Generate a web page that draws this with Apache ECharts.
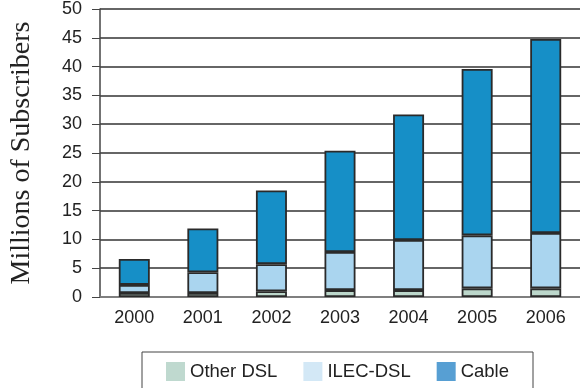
<!DOCTYPE html>
<html>
<head>
<meta charset="utf-8">
<script src="https://cdn.jsdelivr.net/npm/echarts@6/dist/echarts.min.js"></script>
<style>
  html, body { margin: 0; padding: 0; background: #fff; }
  #chart { width: 580px; height: 388px; }
</style>
</head>
<body>
<div id="chart"></div>
<script>
// subscribers, millions
const years = ['2000', '2001', '2002', '2003', '2004', '2005', '2006']
const otherDsl = [0.7, 0.7, 1.0, 1.2, 1.2, 1.5, 1.5]
const ilecDsl = [1.4, 3.6, 4.7, 6.6, 8.7, 9.2, 9.6]
const cable = [4.5, 7.6, 12.8, 17.6, 21.8, 28.9, 33.7]

const chart = echarts.init(document.getElementById('chart'))

const barStyle = (color) => ({
  color: color,
  borderColor: '#2a2a2a',
  borderWidth: 1.8
})

chart.setOption({
  animation: false,
  textStyle: { fontFamily: 'Liberation Sans, Arial, sans-serif' },
  grid: {
    left: 96,
    top: 7,
    width: 494,
    height: 290
  },
  legend: {
    left: 142,
    top: 352,
    padding: [10, 24, 10, 24],
    borderColor: '#444',
    borderWidth: 1,
    itemWidth: 19,
    itemHeight: 19,
    itemGap: 26,
    textStyle: { fontSize: 18.5, color: '#222' },
    data: [
      { name: 'Other DSL', icon: 'rect', itemStyle: { color: '#bfd9cf', borderWidth: 0 } },
      { name: 'ILEC-DSL', icon: 'rect', itemStyle: { color: '#d3e8f6', borderWidth: 0 } },
      { name: 'Cable', icon: 'rect', itemStyle: { color: '#579fd3', borderWidth: 0 } }
    ]
  },
  xAxis: {
    type: 'category',
    data: years,
    axisLine: { lineStyle: { color: '#888', width: 1.5 } },
    axisTick: { length: 7, lineStyle: { color: '#555' } },
    axisLabel: { fontSize: 18, color: '#222', margin: 12 }
  },
  yAxis: {
    type: 'value',
    min: 0,
    max: 50,
    interval: 5,
    name: 'Millions of Subscribers',
    nameLocation: 'middle',
    nameGap: 64,
    nameTextStyle: {
      fontFamily: 'Liberation Serif, Times New Roman, serif',
      fontSize: 28,
      color: '#222'
    },
    axisLine: { show: true, lineStyle: { color: '#444', width: 1.5 } },
    axisTick: { show: true, length: 8, lineStyle: { color: '#444' } },
    axisLabel: { fontSize: 18, color: '#222', margin: 18 },
    splitLine: { lineStyle: { color: '#333', width: 1.5 } }
  },
  series: [
    {
      name: 'Other DSL',
      type: 'bar',
      stack: 'total',
      barWidth: 31,
      itemStyle: barStyle('#bcd7cb'),
      data: otherDsl
    },
    {
      name: 'ILEC-DSL',
      type: 'bar',
      stack: 'total',
      barWidth: 31,
      itemStyle: barStyle('#aad5ef'),
      data: ilecDsl
    },
    {
      name: 'Cable',
      type: 'bar',
      stack: 'total',
      barWidth: 31,
      itemStyle: barStyle('#168fc7'),
      data: cable
    }
  ]
})
</script>
</body>
</html>
